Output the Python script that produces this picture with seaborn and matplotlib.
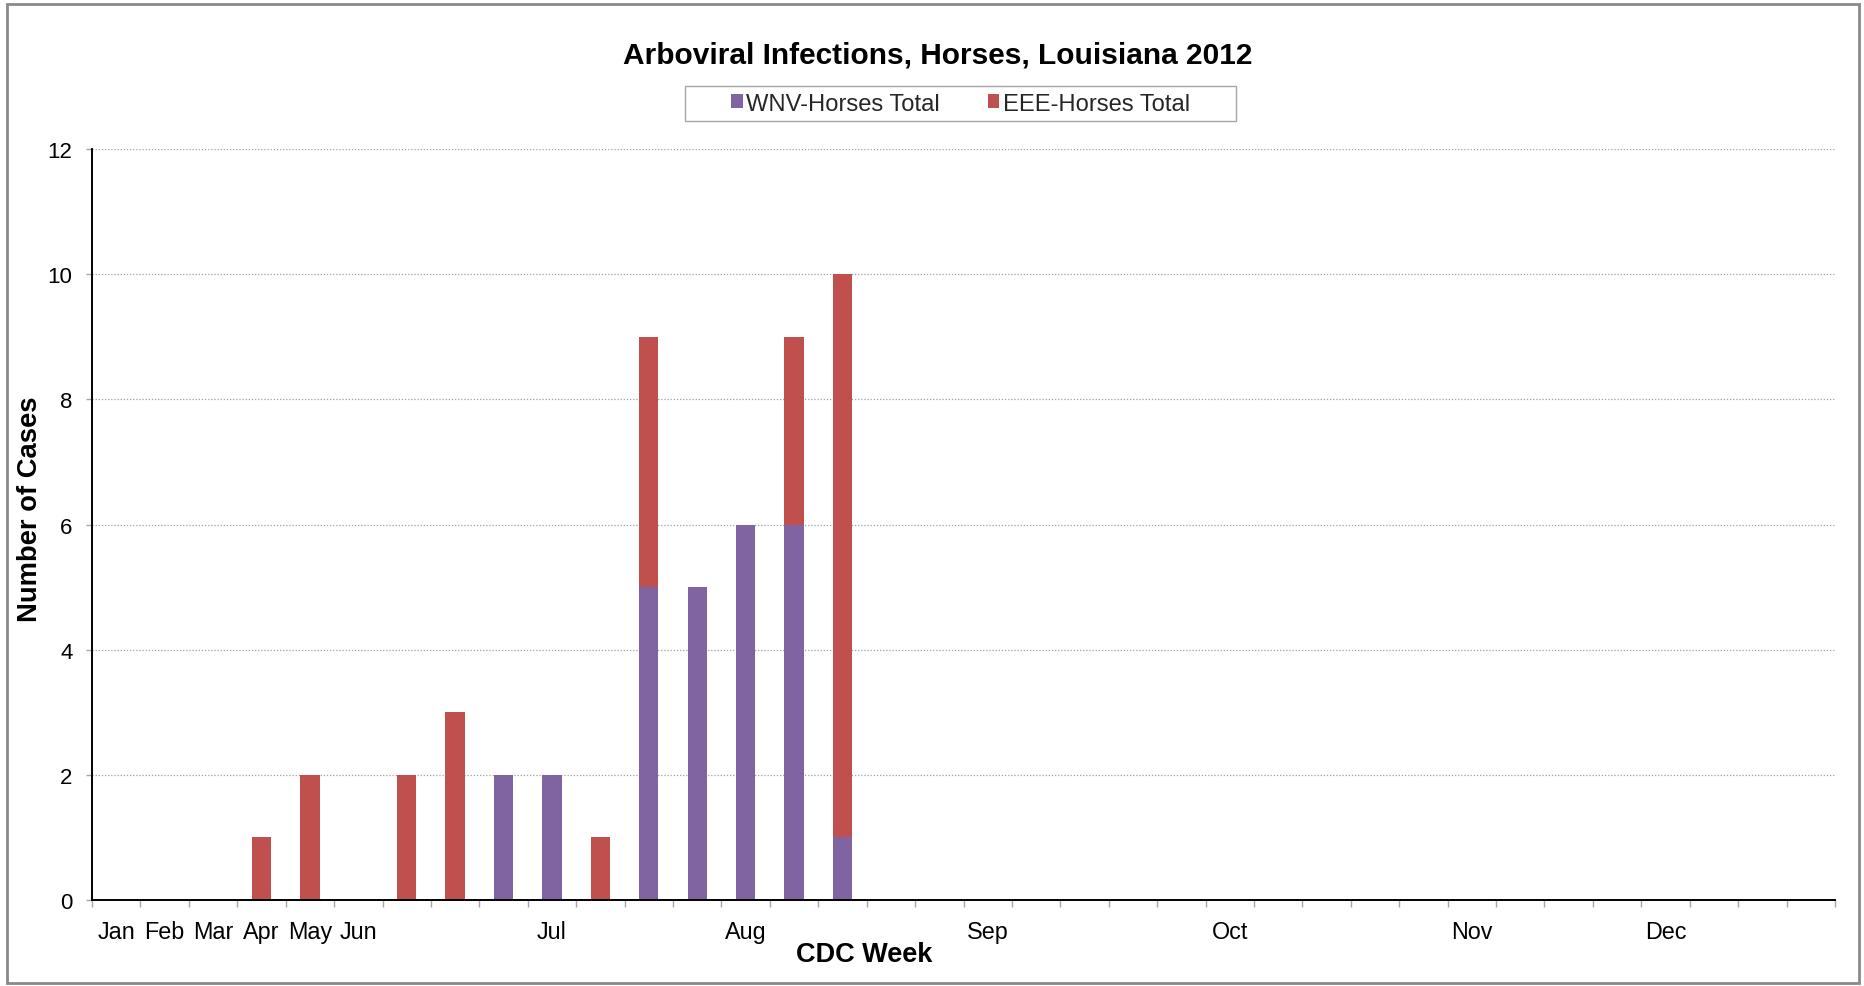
import matplotlib
matplotlib.use("Agg")
import matplotlib.pyplot as plt
from matplotlib.patches import Rectangle, Patch
import seaborn as sns
import pandas as pd

# Weekly horse case counts, one slot per CDC week shown on the axis
week_slots = list(range(36))
wnv_cases = [0, 0, 0, 0, 0, 0, 0, 0, 2, 2, 0, 5, 5, 6, 6, 1,
             0, 0, 0, 0, 0, 0, 0, 0, 0, 0, 0, 0, 0, 0, 0, 0, 0, 0, 0, 0]
eee_cases = [0, 0, 0, 1, 2, 0, 2, 3, 0, 0, 1, 4, 0, 0, 3, 9,
             0, 0, 0, 0, 0, 0, 0, 0, 0, 0, 0, 0, 0, 0, 0, 0, 0, 0, 0, 0]
month_labels = {0: "Jan", 1: "Feb", 2: "Mar", 3: "Apr", 4: "May", 5: "Jun",
                9: "Jul", 13: "Aug", 18: "Sep", 23: "Oct", 28: "Nov", 32: "Dec"}
series_names = ["WNV-Horses Total", "EEE-Horses Total"]

WNV_COLOR = "#8064A2"
EEE_COLOR = "#C0504D"
FONT = "Liberation Sans"

sns.set_theme(style="white")
plt.rcParams["font.family"] = [FONT, "DejaVu Sans"]

df = pd.DataFrame({"week": week_slots, "wnv": wnv_cases, "eee": eee_cases})
df["total"] = df["wnv"] + df["eee"]

fig = plt.figure(figsize=(18.64, 9.87), dpi=100)
ax = fig.add_axes([0.04936, 0.08713, 0.93508, 0.76089])

# Stacked bars: full height in EEE colour, WNV portion drawn over the base
sns.barplot(data=df, x="week", y="total", order=week_slots, color=EEE_COLOR,
            width=0.4, linewidth=0, saturation=1, ax=ax, zorder=3)
sns.barplot(data=df, x="week", y="wnv", order=week_slots, color=WNV_COLOR,
            width=0.4, linewidth=0, saturation=1, ax=ax, zorder=4)

ax.set_xlim(-0.5, len(week_slots) - 0.5)
ax.set_ylim(0, 12)
ax.set_yticks(range(0, 13, 2))
ax.set_yticklabels([str(v) for v in range(0, 13, 2)], fontsize=16, color="black")

ax.set_xticks(week_slots)
ax.set_xticklabels([month_labels.get(w, "") for w in week_slots],
                   fontsize=16.8, color="black")
ax.set_xticks([w - 0.5 for w in week_slots] + [week_slots[-1] + 0.5], minor=True)
ax.tick_params(axis="x", which="major", length=0, pad=14.5)
ax.tick_params(axis="x", which="minor", length=5, width=1, color="#a6a6a6",
               direction="out", bottom=True)
ax.tick_params(axis="y", which="major", length=4, width=1, color="#a6a6a6",
               direction="out", left=True, pad=10)

ax.yaxis.grid(True, linestyle=(0, (1, 1.5)), color="#a0a0a0", linewidth=0.9, zorder=0)
ax.xaxis.grid(False)
ax.set_axisbelow(True)

for side in ("top", "right"):
    ax.spines[side].set_visible(False)
for side in ("left", "bottom"):
    ax.spines[side].set_color("black")
    ax.spines[side].set_linewidth(1.4)
    ax.spines[side].set_zorder(5)

ax.set_xlabel("CDC Week", fontsize=19.5, fontweight="bold", color="black")
ax.xaxis.set_label_coords(0.4429, -0.0719)
ax.xaxis.label.set_verticalalignment("center")
ax.set_ylabel("Number of Cases", fontsize=19.7, fontweight="bold", color="black")
ax.yaxis.set_label_coords(-0.0356, 0.522)
ax.yaxis.label.set_verticalalignment("center")

fig.suptitle("Arboviral Infections, Horses, Louisiana 2012", x=0.503, y=0.9433,
             va="center", fontsize=21.5, fontweight="bold", color="black")

handles = [Patch(facecolor=WNV_COLOR, edgecolor="none"),
           Patch(facecolor=EEE_COLOR, edgecolor="none")]
fig.legend(handles, series_names, loc="center", bbox_to_anchor=(0.5153, 0.8941),
           ncol=2, frameon=False, fontsize=17.1, handlelength=0.5,
           handleheight=0.5, handletextpad=0.15, columnspacing=2.0,
           borderpad=0.2)
# Legend frame
fig.patches.append(Rectangle((685 / 1864, 1 - 122 / 987), 551 / 1864, 35 / 987,
                             transform=fig.transFigure, fill=False,
                             edgecolor="#a6a6a6", linewidth=1.0))
# Chart outer border
fig.patches.append(Rectangle((7 / 1864, 1 - 984 / 987), 1852 / 1864, 979 / 987,
                             transform=fig.transFigure, fill=False,
                             edgecolor="#8a8a8a", linewidth=2.0))

fig.savefig("out.png", dpi=100)
